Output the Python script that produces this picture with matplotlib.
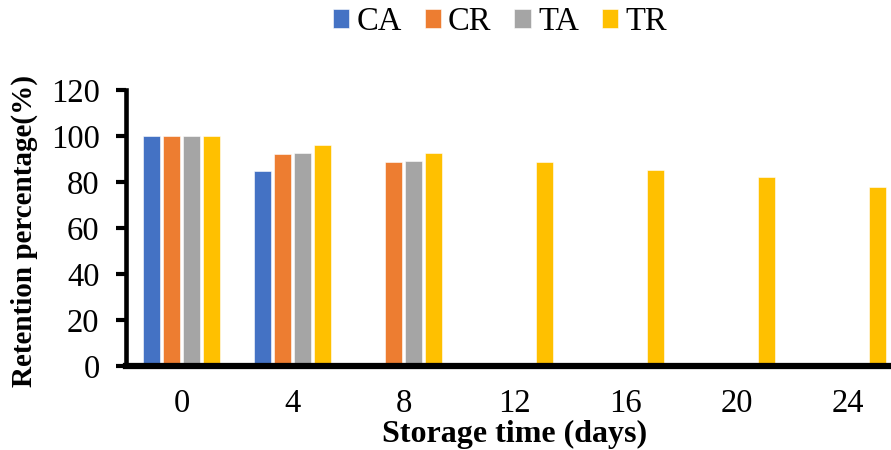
import numpy as np
import matplotlib.pyplot as plt

plt.rcParams['font.family'] = ['Liberation Serif', 'DejaVu Serif']

days = [0, 4, 8, 12, 16, 20, 24]
ca = [100, 85, np.nan, np.nan, np.nan, np.nan, np.nan]
cr = [100, 92.3, 88.6, np.nan, np.nan, np.nan, np.nan]
ta = [100, 92.5, 89.0, np.nan, np.nan, np.nan, np.nan]
tr = [100, 95.9, 92.5, 88.8, 85.2, 82.3, 77.8]

series = [("CA", ca, "#4472C4"), ("CR", cr, "#ED7D31"),
          ("TA", ta, "#A5A5A5"), ("TR", tr, "#FFC000")]

fig = plt.figure(figsize=(8.91, 4.5), dpi=100)
ax = fig.add_axes([126 / 891, 84 / 450, 777 / 891, 276 / 450])

x = np.arange(len(days))
pitch = 0.18
width = 0.145
for i, (name, vals, col) in enumerate(series):
    ax.bar(x + (i - 1.5) * pitch, vals, width=width, color=col,
           edgecolor='white', linewidth=0.4, label=name)

ax.set_xlim(-0.5, len(days) - 0.5)
ax.set_ylim(0, 120)
ax.set_yticks(range(0, 121, 20))
ax.set_xticks(x)
ax.set_xticklabels([str(d) for d in days])

for s in ['top', 'right']:
    ax.spines[s].set_visible(False)
ax.spines['left'].set_linewidth(3.3)
ax.spines['bottom'].set_linewidth(4.5)
ax.tick_params(axis='y', length=7, width=3, labelsize=23.5, pad=12)
ax.tick_params(axis='x', length=0, labelsize=23.5, pad=16)

ax.set_ylabel("Retention percentage(%)", fontsize=21, fontweight='bold')
ax.set_xlabel("Storage time (days)", fontsize=23, fontweight='bold', labelpad=0.5)
ax.yaxis.set_label_coords(-0.113, 0.49)

fig.legend(loc='center', bbox_to_anchor=(0.561, 1 - 22 / 450), ncol=4, frameon=False,
           fontsize=23.5, handlelength=0.5, handleheight=0.5, handletextpad=0.22,
           columnspacing=0.7)

fig.savefig("out.png", dpi=100)
